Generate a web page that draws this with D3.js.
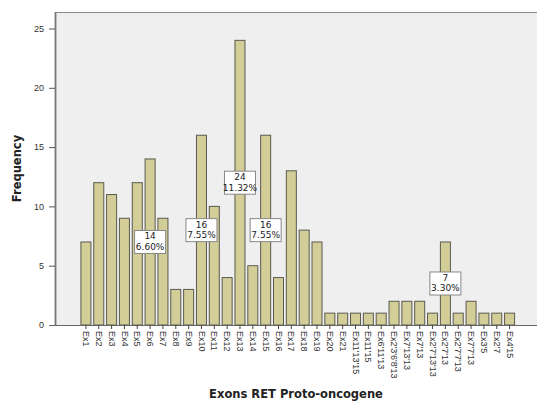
<!DOCTYPE html>
<html>
<head>
<meta charset="utf-8">
<script src="https://cdn.jsdelivr.net/npm/d3@7"></script>
<style>
  html, body { margin: 0; padding: 0; background: #fff; }
  svg { display: block; font-family: "DejaVu Sans", "Liberation Sans", sans-serif; }
</style>
</head>
<body>
<svg id="chart" width="537" height="407"></svg>
<script>
const categories = ["Ex1","Ex2","Ex3","Ex4","Ex5","Ex6","Ex7","Ex8","Ex9","Ex10","Ex11","Ex12","Ex13","Ex14","Ex15","Ex16","Ex17","Ex18","Ex19","Ex20","Ex21","Ex11'13'15","Ex11'15","Ex6'11'13","Ex2'3'6'8'13","Ex7'13'13","Ex7'13","Ex2'7'13'13","Ex2'7'13","Ex2'7'7'13","Ex7'7'13","Ex3'5","Ex2'7","Ex4'15"];
const frequency = [7,12,11,9,12,14,9,3,3,16,10,4,24,5,16,4,13,8,7,1,1,1,1,1,2,2,2,1,7,1,2,1,1,1];
const labelled = ["Ex6","Ex10","Ex13","Ex15","Ex2'7'13"];
const yTicks = [0,5,10,15,20,25];

const svg = d3.select("#chart");
const pLeft = 55, pRight = 537, pTop = 12, pBottom = 325;

const total = d3.sum(frequency);
const x = d3.scaleBand().domain(categories).range([79.5, 516]).paddingInner(0.22).paddingOuter(0.11);
const y = d3.scaleLinear().domain([0, 25]).range([pBottom, 28.5]);

// plot background
svg.append("rect").attr("x", pLeft).attr("y", pTop).attr("width", pRight - pLeft).attr("height", pBottom - pTop).attr("fill", "#efefef");
// top border
svg.append("line").attr("x1", pLeft).attr("x2", pRight).attr("y1", pTop + 0.5).attr("y2", pTop + 0.5).attr("stroke", "#8a8a8a").attr("stroke-width", 1.2);

// bars
svg.append("g").selectAll("rect").data(categories).join("rect")
  .attr("x", d => x(d))
  .attr("y", (d, i) => y(frequency[i]))
  .attr("width", x.bandwidth())
  .attr("height", (d, i) => y(0) - y(frequency[i]))
  .attr("fill", "#d3cd98")
  .attr("stroke", "#5a5a50")
  .attr("stroke-width", 1);

// y axis
const yAxis = svg.append("g").attr("transform", `translate(${pLeft},0)`)
  .call(d3.axisLeft(y).tickValues(yTicks).tickSize(6).tickPadding(5));
yAxis.select(".domain").attr("d", `M0.5,${pTop}V${pBottom}`).attr("stroke", "#777").attr("stroke-width", 1.8);
yAxis.selectAll(".tick line").attr("stroke", "#555");
yAxis.selectAll(".tick text").attr("fill", "#333").attr("font-size", 9);

// x axis
const xAxis = svg.append("g").attr("transform", `translate(0,${pBottom})`)
  .call(d3.axisBottom(x).tickSize(4).tickPadding(3));
xAxis.select(".domain").attr("d", `M${pLeft - 6},0.5H${pRight}`).attr("stroke", "#666").attr("stroke-width", 1.2);
xAxis.selectAll(".tick line").attr("stroke", "#444");
xAxis.selectAll(".tick text")
  .attr("fill", "#333").attr("font-size", 9)
  .attr("transform", "rotate(90)")
  .attr("x", 6).attr("y", 0).attr("dy", "0.32em")
  .attr("text-anchor", "start");

// labels
const lab = svg.append("g");
categories.forEach((c, i) => {
  if (!labelled.includes(c)) return;
  const cx = x(c) + x.bandwidth() / 2;
  const cy = y(frequency[i] / 2);
  const pct = (frequency[i] / total * 100).toFixed(2) + "%";
  const w = 31, h = 23;
  const g = lab.append("g");
  g.append("rect").attr("x", cx - w / 2).attr("y", cy - h / 2).attr("width", w).attr("height", h)
    .attr("fill", "#fff").attr("stroke", "#888").attr("stroke-width", 1);
  g.append("text").attr("x", cx).attr("y", cy - 2.5).attr("text-anchor", "middle").attr("font-size", 9).attr("fill", "#222").text(frequency[i]);
  g.append("text").attr("x", cx).attr("y", cy + 8).attr("text-anchor", "middle").attr("font-size", 9).attr("fill", "#222").text(pct);
});

// axis titles
svg.append("text").attr("transform", `translate(21,${(pTop + pBottom) / 2}) rotate(-90)`)
  .attr("text-anchor", "middle").attr("font-size", 11.5).attr("font-weight", "bold").attr("fill", "#222").text("Frequency");
svg.append("text").attr("x", (pLeft + pRight) / 2).attr("y", 398)
  .attr("text-anchor", "middle").attr("font-size", 11.5).attr("font-weight", "bold").attr("fill", "#222").text("Exons RET Proto-oncogene");
</script>
</body>
</html>
